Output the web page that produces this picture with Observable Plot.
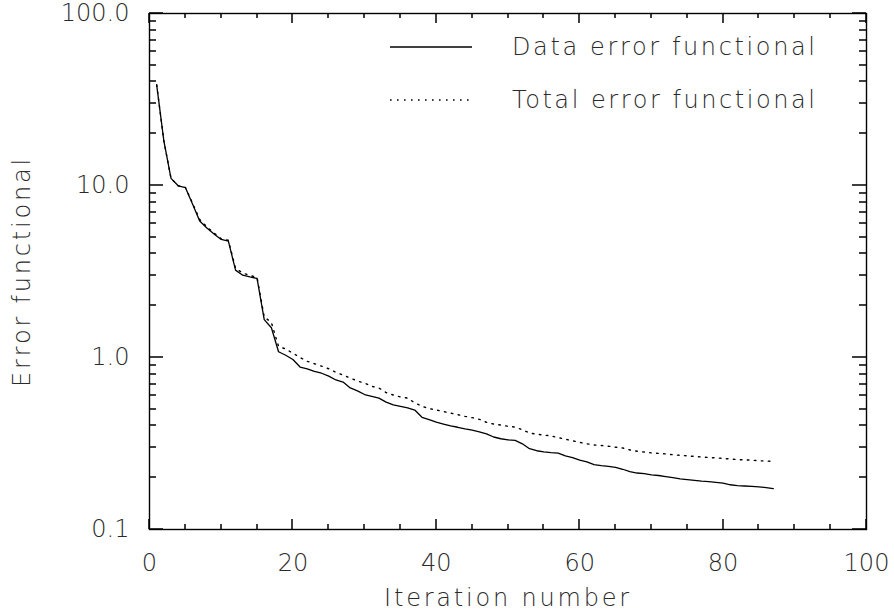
<!DOCTYPE html>
<html><head><meta charset="utf-8">
<script src="https://cdn.jsdelivr.net/npm/d3@7"></script>
<script src="https://cdn.jsdelivr.net/npm/@observablehq/plot@0.6"></script>
<style>
body{margin:0;background:#fff}
svg{display:block}
svg text{font-weight:200}
</style>
</head><body><div id="chart"></div>
<script>
const iterations = [1,2,3,4,5,6,7,8,9,10,11,12,13,14,15,16,17,18,19,20,21,22,23,24,25,26,27,28,29,30,31,32,33,34,35,36,37,38,39,40,41,42,43,44,45,46,47,48,49,50,51,52,53,54,55,56,57,58,59,60,61,62,63,64,65,66,67,68,69,70,71,72,73,74,75,76,77,78,79,80,81,82,83,84,85,86,87];
const dataError = [38.5,18.2,11.0,9.96,9.73,7.8,6.22,5.66,5.22,4.86,4.75,3.22,3.01,2.94,2.88,1.66,1.49,1.08,1.03,0.974,0.88,0.86,0.83,0.81,0.78,0.74,0.72,0.665,0.64,0.609,0.595,0.58,0.55,0.53,0.52,0.51,0.495,0.449,0.435,0.421,0.41,0.40,0.393,0.385,0.378,0.37,0.36,0.345,0.337,0.332,0.33,0.315,0.295,0.287,0.283,0.28,0.278,0.268,0.262,0.253,0.247,0.238,0.235,0.233,0.23,0.224,0.217,0.213,0.211,0.208,0.206,0.203,0.2,0.197,0.195,0.193,0.191,0.19,0.188,0.186,0.182,0.18,0.179,0.178,0.177,0.175,0.173];
const totalError = [38.5,18.2,11.0,9.97,9.75,7.9,6.35,5.75,5.3,4.9,4.8,3.3,3.1,3.0,2.92,1.72,1.6,1.16,1.12,1.06,1.0,0.95,0.92,0.89,0.86,0.82,0.79,0.76,0.73,0.71,0.68,0.665,0.625,0.605,0.59,0.58,0.545,0.52,0.505,0.495,0.485,0.475,0.465,0.455,0.447,0.437,0.42,0.41,0.405,0.398,0.394,0.38,0.364,0.358,0.354,0.35,0.342,0.335,0.328,0.321,0.315,0.31,0.308,0.305,0.301,0.298,0.29,0.285,0.282,0.279,0.277,0.275,0.272,0.27,0.268,0.266,0.264,0.262,0.261,0.259,0.257,0.255,0.254,0.253,0.251,0.25,0.249];
const seriesNames = ["Data error functional","Total error functional"];
const xMajorTicks = [0,20,40,60,80,100];
const xMinorTicks = [5,10,15,25,30,35,45,50,55,65,70,75,85,90,95];
const yMajorTicks = [0.1,1,10,100];
const yTickLabels = ["0.1","1.0","10.0","100.0"];
const yMinorTicks = [0.2,0.3,0.4,0.5,0.6,0.7,0.8,0.9,2,3,4,5,6,7,8,9,20,30,40,50,60,70,80,90];
const xTitle = "Iteration number";
const yTitle = "Error functional";

const rowsData = iterations.map((it,i)=>({it, v:dataError[i]}));
const rowsTotal = iterations.map((it,i)=>({it, v:totalError[i]}));

const W = 894, H = 611, ML = 149, MR = 28, MT = 13, MB = 82;
const FONT = "'DejaVu Sans', sans-serif";
const TXT = "#2a2a2a";

const plot = Plot.plot({
  width:W, height:H,
  marginLeft:ML, marginRight:MR, marginTop:MT, marginBottom:MB,
  style:{fontFamily:FONT, fontSize:"24px", color:TXT, background:"white"},
  x:{domain:[0,100]},
  y:{type:"log", domain:[0.1,100]},
  marks:[
    Plot.line(rowsTotal, {x:"it", y:"v", stroke:"black", strokeWidth:1.4, strokeDasharray:"1.6,5.4"}),
    Plot.line(rowsData, {x:"it", y:"v", stroke:"black", strokeWidth:1.3}),
    Plot.frame({stroke:"black", strokeWidth:1.4}),
    Plot.axisX(xMajorTicks, {anchor:"bottom", tickSize:0, tickPadding:24, fontSize:24, label:null, tickFormat:d=>String(d), fill:TXT}),
    Plot.axisY(yMajorTicks, {anchor:"left", tickSize:0, tickPadding:20, fontSize:24, label:null, tickFormat:d=>yTickLabels[yMajorTicks.indexOf(d)], fill:TXT}),
    Plot.text([xTitle], {frameAnchor:"bottom", dy:69, lineAnchor:"middle", textAnchor:"middle", text:d=>d, fontSize:24, fill:TXT}),
    Plot.text([yTitle], {frameAnchor:"left", dx:-127, rotate:-90, lineAnchor:"middle", textAnchor:"middle", text:d=>d, fontSize:24, fill:TXT})
  ]
});
document.getElementById("chart").appendChild(plot);
const svg = d3.select(plot);

// letter spacing on titles (Hershey-like wide spacing)
svg.selectAll("text").filter(function(){return this.textContent===xTitle||this.textContent===yTitle;}).attr("letter-spacing","2.8px");

// inward ticks on all four sides (IDL style), positioned with Plot's own scales
const sx = plot.scale("x"), sy = plot.scale("y");
const X0 = ML, X1 = W - MR, Y0 = MT, Y1 = H - MB;
const tg = svg.append("g").attr("stroke","black").attr("stroke-width",1.5).attr("fill","none");
function xt(vals, L) {
  for (const v of vals) {
    const px = Math.round(sx.apply(v));
    tg.append("path").attr("d", `M${px},${Y1}V${Y1-L}M${px},${Y0}V${Y0+L}`);
  }
}
function yt(vals, L) {
  for (const v of vals) {
    const py = Math.round(sy.apply(v));
    tg.append("path").attr("d", `M${X0},${py}H${X0+L}M${X1},${py}H${X1-L}`);
  }
}
xt(xMajorTicks, 10); xt(xMinorTicks, 5);
yt(yMajorTicks, 14); yt(yMinorTicks, 7);

// legend
const legend = svg.append("g").attr("font-family", FONT).attr("font-size", 24).attr("fill", TXT).attr("text-anchor","start");
const legendRows = [{name:seriesNames[0], dash:null, y:47},{name:seriesNames[1], dash:"1.6,5.4", y:100}];
for (const r of legendRows) {
  legend.append("line").attr("x1",390).attr("x2",472).attr("y1",r.y).attr("y2",r.y)
    .attr("stroke","black").attr("stroke-width",1.3).attr("stroke-dasharray",r.dash);
  legend.append("text").attr("x",512).attr("y",r.y).attr("dy","0.35em")
    .attr("textLength",303).attr("lengthAdjust","spacing").text(r.name);
}
</script>
</body></html>
